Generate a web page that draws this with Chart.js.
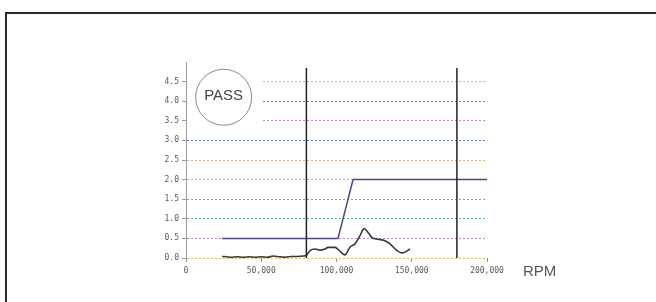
<!DOCTYPE html>
<html lang="en">
<head>
  <meta charset="UTF-8" />
  <title>RPM Test</title>
  <style>
    * { margin: 0; padding: 0; box-sizing: border-box; }
    html, body { width: 656px; height: 302px; overflow: hidden; background: #fff; }
    /* scanned sheet frame, only left and top edges visible */
    .frame {
      position: absolute;
      left: 5px; top: 12px; width: 700px; height: 400px;
      border-left: 2px solid #2a2a30;
      border-top: 2px solid #2a2a30;
    }
    #rpmChart { position: absolute; left: 0; top: 0; }
  </style>
</head>
<body>
  <div class="frame"></div>
  <canvas id="rpmChart" width="656" height="302"></canvas>
  <script src="https://cdn.jsdelivr.net/npm/chart.js"></script>
  <script>
    // measured curve
    const measuredRpm = [24000, 27000, 30000, 34000, 38000, 42000, 46000, 50000, 54000, 58000,
      62000, 66000, 70000, 74000, 78000, 80000, 82400, 85700, 89000, 92400, 94400, 99000,
      101000, 105600, 109000, 112300, 115600, 118300, 121000, 123600, 127600, 132200,
      135500, 140200, 143500, 145500, 148800];
    const measuredVal = [0.04, 0.03, 0.02, 0.03, 0.02, 0.03, 0.02, 0.03, 0.02, 0.05,
      0.03, 0.02, 0.04, 0.04, 0.05, 0.07, 0.19, 0.23, 0.20, 0.23, 0.27, 0.27,
      0.22, 0.08, 0.28, 0.36, 0.57, 0.75, 0.65, 0.52, 0.48, 0.44,
      0.36, 0.19, 0.13, 0.15, 0.23];
    // limit curve
    const limitRpm = [24000, 101000, 111000, 200000];
    const limitVal = [0.5, 0.5, 2.0, 2.0];
    // vertical markers
    const markerRpm = [80000, 180000];
    const markerTop = 4.85;
    // axes
    const yTicks = [0, 0.5, 1.0, 1.5, 2.0, 2.5, 3.0, 3.5, 4.0, 4.5, 5.0];
    const gridColors = ["#d9c44a", "#c28ac4", "#62b08a", "#a98ad0", "#d8c23a",
      "#d8b47a", "#5a74d0", "#c88ac6", "#5c7ad8", "#d6c05a", "rgba(0,0,0,0)"];
    const xTicks = [0, 50000, 100000, 150000, 200000];
    const xTickLabels = ["0", "50,000", "100,000", "150,000", "200,000"];
    const resultText = "PASS";
    const xUnit = "RPM";

    const toPts = (xs, ys) => xs.map((x, i) => ({ x: x, y: ys[i] }));

    const markerSets = markerRpm.map(r => ({
      data: [{ x: r, y: 0 }, { x: r, y: markerTop }],
      borderColor: "#222226",
      borderWidth: 1.5,
      pointRadius: 0,
      showLine: true
    }));

    const overlay = {
      id: "overlay",
      beforeDatasetsDraw(chart) {
        const ctx = chart.ctx;
        const a = chart.chartArea;
        const xs = chart.scales.x;
        const ys = chart.scales.y;
        // clear grid behind result badge
        ctx.save();
        ctx.fillStyle = "#fff";
        const yTop = ys.getPixelForValue(4.85);
        const yBot = ys.getPixelForValue(3.3);
        ctx.fillRect(a.left + 1, yTop, xs.getPixelForValue(50500) - a.left - 1, yBot - yTop);
        // badge
        const cx = xs.getPixelForValue(25000);
        const cy = ys.getPixelForValue(4.1);
        ctx.beginPath();
        ctx.arc(cx, cy, 28, 0, Math.PI * 2);
        ctx.strokeStyle = "#8a8a90";
        ctx.lineWidth = 1;
        ctx.stroke();
        ctx.fillStyle = "#444";
        ctx.font = "15px 'Liberation Sans', Arial, sans-serif";
        ctx.textAlign = "center";
        ctx.textBaseline = "middle";
        ctx.fillText(resultText, cx, cy - 1);
        ctx.restore();
      },
      afterDraw(chart) {
        const ctx = chart.ctx;
        ctx.save();
        ctx.fillStyle = "#555";
        ctx.font = "15px 'Liberation Sans', Arial, sans-serif";
        ctx.textAlign = "left";
        ctx.textBaseline = "middle";
        ctx.fillText(xUnit, chart.chartArea.right + 36, chart.chartArea.bottom + 14);
        ctx.restore();
      }
    };

    new Chart(document.getElementById("rpmChart"), {
      type: "scatter",
      data: {
        datasets: [
          ...markerSets,
          {
            data: toPts(limitRpm, limitVal),
            borderColor: "#4e4786",
            borderWidth: 1.5,
            pointRadius: 0,
            showLine: true
          },
          {
            data: toPts(measuredRpm, measuredVal),
            borderColor: "#36363f",
            borderWidth: 1.6,
            pointRadius: 0,
            showLine: true,
            cubicInterpolationMode: "monotone"
          }
        ]
      },
      options: {
        responsive: false,
        animation: false,
        events: [],
        layout: { padding: { left: 146, top: 62, right: 169, bottom: 0 } },
        plugins: { legend: { display: false }, tooltip: { enabled: false } },
        scales: {
          x: {
            type: "linear",
            min: 0,
            max: 200000,
            afterFit: s => { s.height = 44; },
            afterBuildTicks: s => { s.ticks = xTicks.map(v => ({ value: v })); },
            ticks: {
              color: "#5a5a60",
              font: { family: "'DejaVu Sans Mono', monospace", size: 8 },
              padding: 4,
              maxRotation: 0,
              callback: (v) => xTickLabels[xTicks.indexOf(v)]
            },
            grid: { drawOnChartArea: false, drawTicks: true, tickLength: 4, tickColor: "#8a8a90" },
            border: { display: false }
          },
          y: {
            min: 0,
            max: 5,
            afterFit: s => { s.width = 40; },
            afterBuildTicks: s => { s.ticks = yTicks.map(v => ({ value: v })); },
            ticks: {
              color: "#5a5a60",
              font: { family: "'DejaVu Sans Mono', monospace", size: 8 },
              padding: 3,
              callback: (v) => (v === 5 ? "" : v.toFixed(1))
            },
            grid: {
              color: c => gridColors[c.index] || "transparent",
              lineWidth: 1,
              tickLength: 4,
              tickColor: c => (c.index === yTicks.length - 1 ? "transparent" : "#9a9aa0")
            },
            border: { display: true, color: "#9a9aa0", width: 1, dash: [2, 2] }
          }
        }
      },
      plugins: [overlay]
    });
  </script>
</body>
</html>
